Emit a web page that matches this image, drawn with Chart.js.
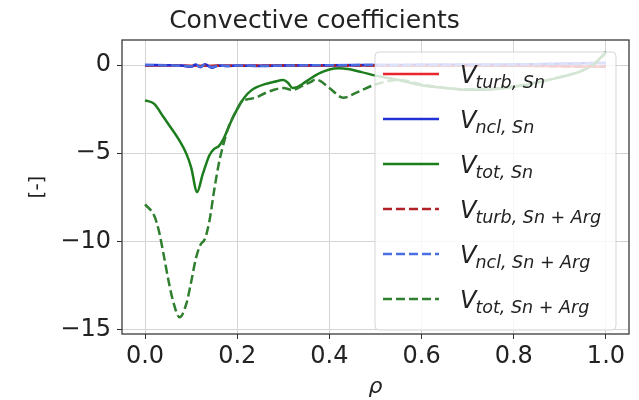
<!DOCTYPE html>
<html>
<head>
<meta charset="utf-8">
<script src="https://cdn.jsdelivr.net/npm/chart.js@4.4.0/dist/chart.umd.min.js"></script>
<style>
  html, body { margin: 0; padding: 0; background: #fff; }
  #wrap { width: 639px; height: 400px; }
</style>
</head>
<body>
<div id="wrap"><canvas id="chart" width="639" height="400"></canvas></div>
<script>
// ---- data ----
const xTicks = [0, 0.2, 0.4, 0.6, 0.8, 1.0];
const yTicks = [-15, -10, -5, 0];

// Sn only (solid)
const rhoTotSn = [0, 0.02, 0.04, 0.06, 0.075, 0.09, 0.1, 0.113, 0.125, 0.14, 0.15, 0.16, 0.17, 0.18, 0.19, 0.2, 0.21, 0.22, 0.23, 0.24, 0.26, 0.28, 0.3, 0.31, 0.32, 0.33, 0.34, 0.36, 0.38, 0.4, 0.42, 0.44, 0.47, 0.5, 0.55, 0.6, 0.65, 0.7, 0.75, 0.8, 0.85, 0.9, 0.95, 0.98, 1.0];
const totSn    = [-2.0, -2.2, -2.95, -3.7, -4.3, -5.05, -5.8, -7.2, -6.2, -5.1, -4.75, -4.6, -4.2, -3.6, -3.0, -2.5, -2.05, -1.7, -1.45, -1.28, -1.08, -0.95, -0.85, -1.0, -1.3, -1.25, -1.1, -0.75, -0.45, -0.25, -0.18, -0.22, -0.4, -0.6, -0.85, -1.15, -1.3, -1.4, -1.38, -1.25, -1.0, -0.7, -0.3, 0.2, 0.75];

const rhoSmall = [0, 0.05, 0.08, 0.1, 0.11, 0.12, 0.13, 0.145, 0.16, 0.18, 0.2, 0.25, 0.3, 0.4, 0.5, 0.6, 0.7, 0.8, 0.85, 0.9, 0.95, 1.0];
const turbSn   = [-0.03, -0.03, -0.04, -0.05, -0.04, -0.05, -0.04, -0.05, -0.04, -0.04, -0.04, -0.03, -0.03, -0.03, -0.03, -0.03, -0.03, -0.04, -0.05, -0.07, -0.08, -0.08];
const nclSn    = [0.0, -0.01, -0.03, -0.1, 0.03, -0.12, 0.04, -0.15, -0.03, -0.06, -0.02, -0.05, -0.03, -0.01, 0.0, 0.01, 0.02, 0.03, 0.05, 0.07, 0.1, 0.12];

// Sn + Arg (dashed)
const rhoTotArg = [0, 0.02, 0.03, 0.04, 0.05, 0.06, 0.075, 0.09, 0.1, 0.11, 0.12, 0.13, 0.14, 0.15, 0.16, 0.167, 0.18, 0.19, 0.2, 0.21, 0.22, 0.24, 0.26, 0.28, 0.3, 0.32, 0.34, 0.36, 0.37, 0.38, 0.4, 0.43, 0.46, 0.5, 0.55, 0.6, 0.65, 0.7, 0.75, 0.8, 0.85, 0.9, 0.95, 0.98, 1.0];
const totArg    = [-7.9, -8.55, -9.4, -10.7, -12.1, -13.3, -14.3, -13.5, -12.3, -11.0, -10.2, -9.85, -8.8, -7.1, -5.6, -4.8, -3.6, -3.0, -2.5, -2.05, -1.95, -1.85, -1.6, -1.4, -1.3, -1.42, -1.2, -0.95, -0.82, -0.9, -1.3, -1.85, -1.55, -1.1, -0.85, -1.1, -1.28, -1.38, -1.35, -1.2, -0.98, -0.68, -0.3, 0.15, 0.72];
const turbArg   = [-0.03, -0.03, -0.04, -0.05, -0.05, -0.05, -0.04, -0.05, -0.04, -0.04, -0.04, -0.03, -0.03, -0.03, -0.03, -0.03, -0.03, -0.04, -0.05, -0.07, -0.08, -0.08];
const nclArg    = [0.0, -0.02, -0.04, -0.08, 0.02, -0.1, 0.03, -0.12, -0.03, -0.05, -0.02, -0.04, -0.03, -0.01, 0.0, 0.01, 0.02, 0.03, 0.05, 0.07, 0.1, 0.12];

const seriesNames = ['turb, Sn', 'ncl, Sn', 'tot, Sn', 'turb, Sn + Arg', 'ncl, Sn + Arg', 'tot, Sn + Arg'];
const seriesColors = ['#e8262c', '#2230d8', '#1c7d1c', '#b02228', '#4a6fe3', '#2f7f2f'];

// ---- helpers ----
function pts(xs, ys) {
    return xs.map((x, i) => ({ x: x, y: ys[i] }));
}

const FONT = "'DejaVu Sans', sans-serif";
const DASH = [9, 4];

function makeSet(i, xs, ys, dashed) {
    return {
        label: seriesNames[i],
        data: pts(xs, ys),
        borderColor: seriesColors[i],
        borderWidth: 2.5,
        borderDash: dashed ? DASH : [],
        pointRadius: 0,
        fill: false,
        tension: 0.3,
        cubicInterpolationMode: 'monotone',
        order: 6 - i   // later series on top, like matplotlib
    };
}

// frame on all four sides (matplotlib spines)
const framePlugin = {
    id: 'frame',
    afterDatasetsDraw(chart) {
        const { ctx, chartArea: a } = chart;
        ctx.save();
        ctx.strokeStyle = '#3a3a3a';
        ctx.lineWidth = 1.3;
        ctx.strokeRect(a.left, a.top, a.right - a.left, a.bottom - a.top);
        ctx.restore();
    }
};

// legend with subscripts, drawn over the lines
const legendPlugin = {
    id: 'subLegend',
    afterDraw(chart) {
        const { ctx, chartArea: a } = chart;
        const bx = a.left + 253, by = a.top + 12;
        const bw = 241, bh = 278;
        ctx.save();
        ctx.beginPath();
        ctx.roundRect(bx, by, bw, bh, 4);
        ctx.fillStyle = 'rgba(255,255,255,0.8)';
        ctx.fill();
        ctx.strokeStyle = 'rgba(204,204,204,0.8)';
        ctx.lineWidth = 1;
        ctx.stroke();

        chart.data.datasets.forEach((ds, i) => {
            const yc = by + 22 + i * 45;
            ctx.beginPath();
            ctx.setLineDash(ds.borderDash);
            ctx.strokeStyle = ds.borderColor;
            ctx.lineWidth = 2.5;
            ctx.moveTo(bx + 8, yc);
            ctx.lineTo(bx + 64, yc);
            ctx.stroke();
            ctx.setLineDash([]);

            ctx.fillStyle = '#222';
            ctx.textBaseline = 'alphabetic';
            ctx.textAlign = 'left';
            ctx.font = 'italic 24px ' + FONT;
            const tx = bx + 85;
            ctx.fillText('V', tx, yc + 8.5);
            const vw = ctx.measureText('V').width;
            ctx.font = 'italic 17.5px ' + FONT;
            ctx.fillText(seriesNames[i], tx + vw - 1, yc + 14);
        });
        ctx.restore();
    }
};

const ctx = document.getElementById('chart').getContext('2d');
new Chart(ctx, {
    type: 'line',
    data: {
        datasets: [
            makeSet(0, rhoSmall, turbSn, false),
            makeSet(1, rhoSmall, nclSn, false),
            makeSet(2, rhoTotSn, totSn, false),
            makeSet(3, rhoSmall, turbArg, true),
            makeSet(4, rhoSmall, nclArg, true),
            makeSet(5, rhoTotArg, totArg, true)
        ]
    },
    options: {
        responsive: false,
        animation: false,
        events: [],
        layout: { padding: { left: 0, right: 10, top: 0, bottom: 0 } },
        plugins: {
            legend: { display: false },
            tooltip: { enabled: false },
            title: {
                display: true,
                text: 'Convective coefficients',
                color: '#222',
                font: { family: FONT, size: 25, weight: 'normal' },
                padding: { top: 6, bottom: 4 }
            }
        },
        scales: {
            x: {
                type: 'linear',
                min: -0.05,
                max: 1.05,
                afterBuildTicks: s => { s.ticks = xTicks.map(v => ({ value: v })); },
                afterFit: s => { s.height = 66; },
                ticks: {
                    color: '#222',
                    font: { family: FONT, size: 24 },
                    padding: 3,
                    maxRotation: 0,
                    callback: v => v.toFixed(1)
                },
                grid: { color: '#d4d4d4', lineWidth: 1, tickLength: 5, tickColor: '#333' },
                border: { display: false },
                title: {
                    display: true,
                    text: 'ρ',
                    color: '#222',
                    font: { family: FONT, size: 22, style: 'italic' },
                    padding: { top: 0, bottom: 0 }
                }
            },
            y: {
                type: 'linear',
                min: -15.25,
                max: 1.42,
                afterBuildTicks: s => { s.ticks = yTicks.map(v => ({ value: v })); },
                afterFit: s => { s.width = 122; },
                ticks: {
                    color: '#222',
                    font: { family: FONT, size: 24 },
                    padding: 6,
                    callback: v => (v < 0 ? '\u2212' + Math.abs(v) : String(v))
                },
                grid: { color: '#d4d4d4', lineWidth: 1, tickLength: 5, tickColor: '#333' },
                border: { display: false },
                title: {
                    display: true,
                    text: '[-]',
                    color: '#222',
                    font: { family: FONT, size: 20 },
                    padding: { top: 26, bottom: 0 }
                }
            }
        }
    },
    plugins: [framePlugin, legendPlugin]
});
</script>
</body>
</html>
